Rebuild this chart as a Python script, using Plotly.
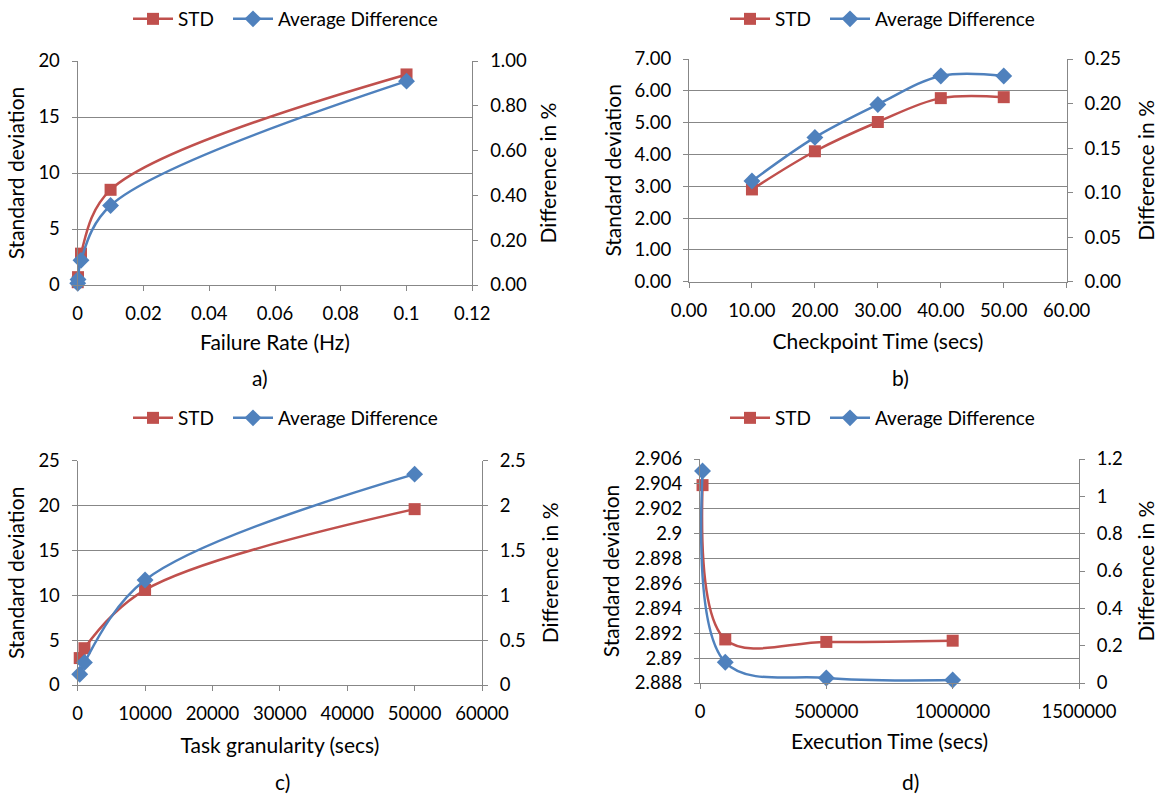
import plotly.graph_objects as go

# ---------------- data ----------------
a_x = [0.00001, 0.0001, 0.001, 0.01, 0.1]
a_std = [0.25, 0.7, 2.8, 8.5, 18.8]
a_diff = [0.008, 0.025, 0.11, 0.355, 0.91]

b_x = [10, 20, 30, 40, 50]
b_std = [2.90, 4.10, 5.02, 5.77, 5.80]
b_diff = [0.113, 0.162, 0.199, 0.231, 0.231]

c_x = [300, 1000, 10000, 50000]
c_std = [3.0, 4.1, 10.6, 19.6]
c_diff = [0.12, 0.25, 1.17, 2.35]

d_x = [10000, 100000, 500000, 1000000]
d_std = [2.9039, 2.8915, 2.8913, 2.8914]
d_diff = [1.136, 0.111, 0.027, 0.016]

series_names = ["STD", "Average Difference"]
x_titles = ["Failure Rate (Hz)", "Checkpoint Time (secs)", "Task granularity (secs)", "Execution Time (secs)"]
panel_labels = ["a)", "b)", "c)", "d)"]
left_title = "Standard deviation"
right_title = "Difference in %"

a_xticks = [0, 0.02, 0.04, 0.06, 0.08, 0.1, 0.12]
a_xtext = ["0", "0.02", "0.04", "0.06", "0.08", "0.1", "0.12"]
a_lticks = [0, 5, 10, 15, 20]
a_ltext = ["0", "5", "10", "15", "20"]
a_rticks = [0, 0.2, 0.4, 0.6, 0.8, 1.0]
a_rtext = ["0.00", "0.20", "0.40", "0.60", "0.80", "1.00"]

b_xticks = [0, 10, 20, 30, 40, 50, 60]
b_xtext = ["0.00", "10.00", "20.00", "30.00", "40.00", "50.00", "60.00"]
b_lticks = [0, 1, 2, 3, 4, 5, 6, 7]
b_ltext = ["0.00", "1.00", "2.00", "3.00", "4.00", "5.00", "6.00", "7.00"]
b_rticks = [0, 0.05, 0.10, 0.15, 0.20, 0.25]
b_rtext = ["0.00", "0.05", "0.10", "0.15", "0.20", "0.25"]

c_xticks = [0, 10000, 20000, 30000, 40000, 50000, 60000]
c_xtext = ["0", "10000", "20000", "30000", "40000", "50000", "60000"]
c_lticks = [0, 5, 10, 15, 20, 25]
c_ltext = ["0", "5", "10", "15", "20", "25"]
c_rticks = [0, 0.5, 1, 1.5, 2, 2.5]
c_rtext = ["0", "0.5", "1", "1.5", "2", "2.5"]

d_xticks = [0, 500000, 1000000, 1500000]
d_xtext = ["0", "500000", "1000000", "1500000"]
d_lticks = [2.888, 2.890, 2.892, 2.894, 2.896, 2.898, 2.900, 2.902, 2.904, 2.906]
d_ltext = ["2.888", "2.89", "2.892", "2.894", "2.896", "2.898", "2.9", "2.902", "2.904", "2.906"]
d_rticks = [0, 0.2, 0.4, 0.6, 0.8, 1.0, 1.2]
d_rtext = ["0", "0.2", "0.4", "0.6", "0.8", "1", "1.2"]

# ---------------- style ----------------
W, H = 1158, 796
RED = "#C0504D"
BLUE = "#4F81BD"
GRID = "#878787"
FONT = "Lato"
TICK_SIZE = 18.5
LEG_SIZE = 19
TITLE_SIZE = 21
LEG_PAD = 5  # approx. inner left padding of a plotly legend box

def px(x):
    return x / W

def py(y):
    return 1 - y / H

panels = [
    dict(x=a_x, std=a_std, diff=a_diff, xt=(a_xticks, a_xtext), lt=(a_lticks, a_ltext), rt=(a_rticks, a_rtext),
         xr=[0, 0.12], lr=[0, 20], rr=[0, 1.0], box=(77.7, 472.3, 61, 285),
         leg=(133, 233, 19), lab=(260, 377), lstand=8, rstand=15, xstand=11),
    dict(x=b_x, std=b_std, diff=b_diff, xt=(b_xticks, b_xtext), lt=(b_lticks, b_ltext), rt=(b_rticks, b_rtext),
         xr=[0, 60], lr=[0, 7], rr=[0, 0.25], box=(689, 1066.7, 59, 281.7),
         leg=(730, 830, 19), lab=(900, 377), lstand=7, rstand=23, xstand=14),
    dict(x=c_x, std=c_std, diff=c_diff, xt=(c_xticks, c_xtext), lt=(c_lticks, c_ltext), rt=(c_rticks, c_rtext),
         xr=[0, 60000], lr=[0, 25], rr=[0, 2.5], box=(77.7, 482, 460.7, 685),
         leg=(133, 233, 418), lab=(282, 781), lstand=8, rstand=18, xstand=14),
    dict(x=d_x, std=d_std, diff=d_diff, xt=(d_xticks, d_xtext), lt=(d_lticks, d_ltext), rt=(d_rticks, d_rtext),
         xr=[0, 1500000], lr=[2.888, 2.906], rr=[0, 1.2], box=(700, 1079, 459, 683),
         leg=(730, 830, 418), lab=(910, 781), lstand=9, rstand=21, xstand=12),
]

fig = go.Figure()
layout = dict(
    width=W, height=H, autosize=False, template="none",
    margin=dict(l=0, r=0, t=0, b=0),
    paper_bgcolor="white", plot_bgcolor="white",
    font=dict(family=FONT, size=TICK_SIZE, color="black"),
    showlegend=True,
)
annotations = []

for i, p in enumerate(panels):
    n = i + 1
    xa = "x" if n == 1 else f"x{n}"
    yl = 2 * n - 1
    yr = 2 * n
    yla = "y" if yl == 1 else f"y{yl}"
    yra = f"y{yr}"
    leg_std = "legend" if n == 1 else f"legend{2 * n - 1}"
    leg_diff = f"legend{2 * n}"
    x0, x1, top, bot = p["box"]

    fig.add_trace(go.Scatter(
        x=p["x"], y=p["std"], name=series_names[0], mode="lines+markers",
        line=dict(color=RED, width=2.5, shape="spline"),
        marker=dict(symbol="square", size=12, color=RED),
        xaxis=xa, yaxis=yla, legend=leg_std, cliponaxis=False,
    ))
    fig.add_trace(go.Scatter(
        x=p["x"], y=p["diff"], name=series_names[1], mode="lines+markers",
        line=dict(color=BLUE, width=2.5, shape="spline"),
        marker=dict(symbol="diamond", size=13, color=BLUE),
        xaxis=xa, yaxis=yra, legend=leg_diff, cliponaxis=False,
    ))

    xkey = "xaxis" if n == 1 else f"xaxis{n}"
    ylkey = "yaxis" if yl == 1 else f"yaxis{yl}"
    yrkey = f"yaxis{yr}"

    layout[xkey] = dict(
        domain=[px(x0), px(x1)], anchor=yla, range=p["xr"],
        tickmode="array", tickvals=p["xt"][0], ticktext=p["xt"][1],
        showline=True, linecolor=GRID, linewidth=1.3, ticks="outside", tickcolor=GRID,
        ticklen=5, ticklabelstandoff=7, showgrid=False, zeroline=False, automargin=False,
        title=dict(text=x_titles[i], font=dict(size=TITLE_SIZE), standoff=p["xstand"]),
    )
    layout[ylkey] = dict(
        domain=[py(bot), py(top)], anchor=xa, range=p["lr"],
        tickmode="array", tickvals=p["lt"][0], ticktext=p["lt"][1],
        showline=True, linecolor=GRID, linewidth=1.3, ticks="outside", tickcolor=GRID,
        ticklen=5, ticklabelstandoff=8, showgrid=True, gridcolor=GRID, gridwidth=1.3,
        zeroline=False, automargin=False,
        title=dict(text=left_title, font=dict(size=TITLE_SIZE), standoff=p["lstand"]),
    )
    layout[yrkey] = dict(
        domain=[py(bot), py(top)], anchor=xa, overlaying=yla, side="right", range=p["rr"],
        tickmode="array", tickvals=p["rt"][0], ticktext=p["rt"][1],
        showline=True, linecolor=GRID, linewidth=1.3, ticks="outside", tickcolor=GRID,
        ticklen=5, ticklabelstandoff=8, showgrid=False, zeroline=False, automargin=False,
        title=dict(text=right_title, font=dict(size=TITLE_SIZE), standoff=p["rstand"]),
    )
    for lname, lx in ((leg_std, p["leg"][0]), (leg_diff, p["leg"][1])):
        layout[lname] = dict(
            orientation="h", x=px(lx - LEG_PAD), y=py(p["leg"][2]), xanchor="left", yanchor="middle",
            font=dict(size=LEG_SIZE), itemwidth=40, bgcolor="rgba(0,0,0,0)",
        )
    annotations.append(dict(
        text=panel_labels[i], x=px(p["lab"][0]), y=py(p["lab"][1]), xref="paper", yref="paper",
        xanchor="center", yanchor="middle", showarrow=False, font=dict(size=TITLE_SIZE),
    ))

layout["annotations"] = annotations
fig.update_layout(**layout)
fig.write_html(
    "out.html",
    config={"displayModeBar": False},
    post_script="document.body.style.margin='0';document.body.style.overflow='hidden';",
)
